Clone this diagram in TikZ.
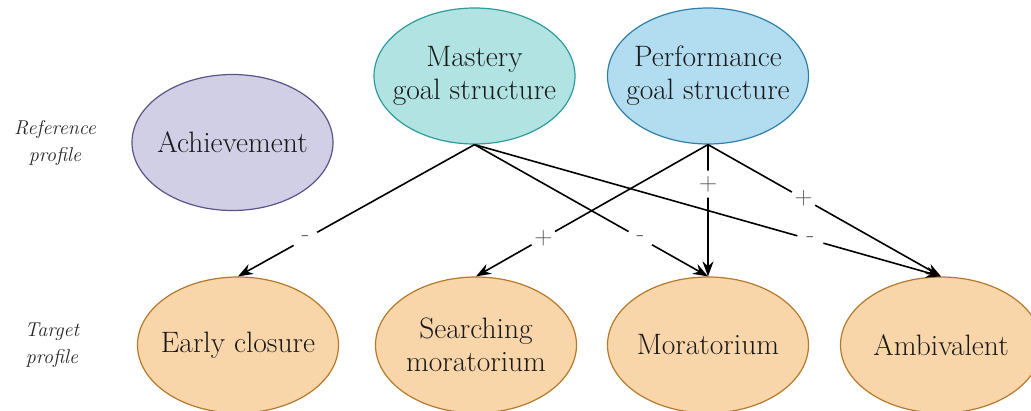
\documentclass[tikz,border=0pt]{standalone}
\usetikzlibrary{shapes.geometric,arrows.meta}
\definecolor{mastfill}{HTML}{B1E3E3}
\definecolor{mastline}{HTML}{2E9C9C}
\definecolor{perffill}{HTML}{B2DCF0}
\definecolor{perfline}{HTML}{2F7FAA}
\definecolor{achfill}{HTML}{D1CFE5}
\definecolor{achline}{HTML}{5A5489}
\definecolor{tgtfill}{HTML}{F8D6AA}
\definecolor{tgtline}{HTML}{B8782A}
\begin{document}
\begin{tikzpicture}[x=1pt,y=-1pt,
  blob/.style={ellipse, draw, line width=1.2pt, inner xsep=-16pt, inner ysep=0pt,
    minimum width=201pt, minimum height=136pt, align=center,
    font=\fontsize{29.5}{33}\selectfont, text=black!90},
  target/.style={blob, fill=tgtfill, draw=tgtline},
  rowlabel/.style={align=center, font=\itshape\fontsize{20}{27}\selectfont, text=black!85},
  conn/.style={line width=1.6pt, -{Stealth[length=15pt,width=11pt]}},
  signlab/.style={fill=white, circle, inner sep=0pt, minimum size=27pt,
    text=black!65, font=\fontsize{25}{25}\selectfont}]
\useasboundingbox (0,0) rectangle (1031,410);

% reference profiles
\node[blob, fill=mastfill, draw=mastline] (mast) at (474.5,76) {Mastery\\goal structure};
\node[blob, fill=perffill, draw=perfline] (perf) at (708,76) {Performance\\goal structure};
\node[blob, fill=achfill, draw=achline] (ach) at (232.5,142.5) {Achievement};

% target profiles
\node[target] (early) at (238,345) {Early closure};
\node[target] (search) at (476,345) {Searching\\moratorium};
\node[target] (mora) at (708,345) {Moratorium};
\node[target] (amb) at (941,345) {Ambivalent};

% row labels
\node[rowlabel] (reflab) at (55,143) {Reference\\profile};
\node[rowlabel] (tgtlab) at (52,345) {Target\\profile};

% effects of the mastery goal structure
\draw[conn] (mast.south) -- node[signlab, pos=0.715] (m1) {-} (early.north);
\draw[conn] (mast.south) -- node[signlab, pos=0.71] (m2) {-} (mora.north);
\draw[conn] (mast.south) -- node[signlab, pos=0.72] (m3) {-} (amb.north);

% effects of the performance goal structure
\draw[conn] (perf.south) -- node[signlab, pos=0.71] (p1) {+} (search.north);
\draw[conn] (perf.south) -- node[signlab, pos=0.3] (p2) {+} (mora.north);
\draw[conn] (perf.south) -- node[signlab, pos=0.41] (p3) {+} (amb.north);
\end{tikzpicture}
\end{document}
